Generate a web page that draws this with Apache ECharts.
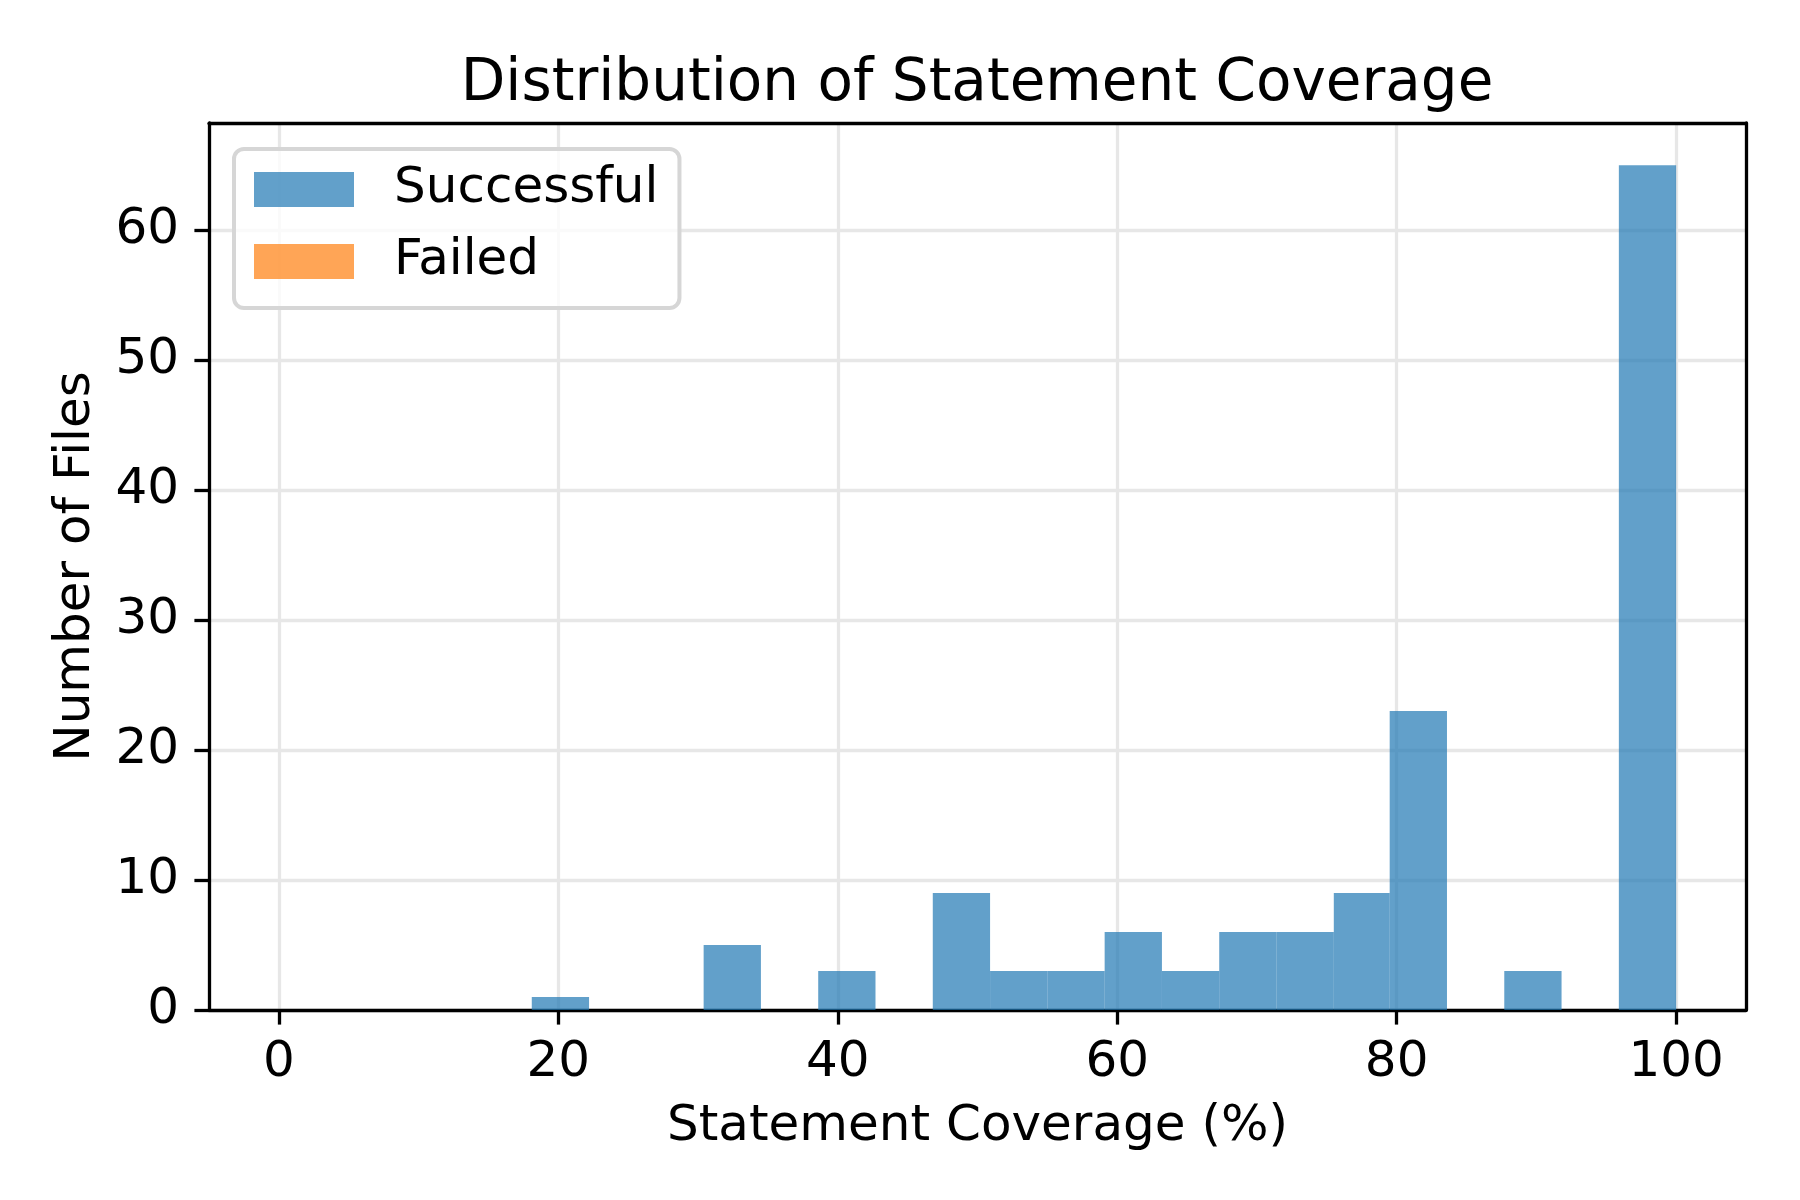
<!DOCTYPE html>
<html><head><meta charset="utf-8">
<script src="https://cdn.jsdelivr.net/npm/echarts@6/dist/echarts.min.js"></script>
<style>html,body{margin:0;padding:0;background:#fff}#c{width:1800px;height:1200px}</style>
</head><body><div id="c"></div>
<script>
// Histogram bin edges and counts
const binEdges = [18.1, 22.2, 26.3, 30.4, 34.5, 38.6, 42.7, 46.8, 50.9, 55.0, 59.1, 63.2, 67.3, 71.4, 75.5, 79.5, 83.6, 87.7, 91.8, 95.9, 100];
const successfulCounts = [1, 0, 0, 5, 0, 3, 0, 9, 3, 3, 6, 3, 6, 6, 9, 23, 0, 3, 0, 65];
const failedEdges = [0, 1];
const failedCounts = [0];
const xTicks = [0, 20, 40, 60, 80, 100];
const yTicks = [0, 10, 20, 30, 40, 50, 60];
const seriesNames = ['Successful', 'Failed'];

function toBars(edges, counts) {
  return counts.map((c, i) => [edges[i], edges[i + 1], c]);
}
function renderBar(params, api) {
  const x0 = api.value(0), x1 = api.value(1), h = api.value(2);
  if (!(h > 0)) return null;
  const p0 = api.coord([x0, 0]);
  const p1 = api.coord([x1, h]);
  return {
    type: 'rect',
    shape: { x: p0[0], y: p1[1], width: p1[0] - p0[0], height: p0[1] - p1[1] },
    style: api.style()
  };
}
const FONT = 'DejaVu Sans';
const chart = echarts.init(document.getElementById('c'), null, { renderer: 'canvas' });
chart.setOption({
  backgroundColor: '#ffffff',
  animation: false,
  textStyle: { fontFamily: FONT },
  title: {
    text: 'Distribution of Statement Coverage',
    left: 977, top: 56, textAlign: 'center',
    padding: 0,
    textStyle: { fontFamily: FONT, fontSize: 58, fontWeight: 'normal', color: '#000' }
  },
  legend: {
    data: [
      { name: seriesNames[0], icon: 'rect' },
      { name: seriesNames[1], icon: 'rect' }
    ],
    orient: 'vertical',
    left: 234, top: 149,
    itemWidth: 100, itemHeight: 35, itemGap: 22,
    padding: [15.5, 21, 21.5, 20],
    backgroundColor: 'rgba(255,255,255,0.8)',
    borderColor: '#d6d6d6', borderWidth: 4, borderRadius: 10,
    textStyle: { fontFamily: FONT, fontSize: 50, color: '#000', padding: [0, 0, 0, 35] },
    selectedMode: false
  },
  grid: { left: 209, right: 54, top: 123, bottom: 190, containLabel: false },
  xAxis: [{
    type: 'value', min: -5, max: 105,
    name: 'Statement Coverage (%)', nameLocation: 'middle', nameGap: 92,
    nameTextStyle: { fontFamily: FONT, fontSize: 50, color: '#000' },
    axisLine: { show: true, onZero: false, lineStyle: { color: '#000', width: 3.3 } },
    axisTick: { show: true, customValues: xTicks, length: 14.6, lineStyle: { color: '#000', width: 3.3 } },
    axisLabel: { customValues: xTicks, fontFamily: FONT, fontSize: 50, color: '#000', margin: 28 },
    splitLine: { show: true, lineStyle: { color: '#e7e7e7', width: 3.3 } }
  }, {
    type: 'value', min: -5, max: 105, position: 'top',
    axisLine: { show: true, onZero: false, lineStyle: { color: '#000', width: 3.3 } },
    axisTick: { show: false }, axisLabel: { show: false }, splitLine: { show: false }
  }],
  yAxis: [{
    type: 'value', min: 0, max: 68.25,
    name: 'Number of Files', nameLocation: 'middle', nameGap: 108, nameRotate: 90,
    nameTextStyle: { fontFamily: FONT, fontSize: 50, color: '#000' },
    axisLine: { show: true, onZero: false, lineStyle: { color: '#000', width: 3.3 } },
    axisTick: { show: true, customValues: yTicks, length: 14.6, lineStyle: { color: '#000', width: 3.3 } },
    axisLabel: { customValues: yTicks, fontFamily: FONT, fontSize: 50, color: '#000', margin: 30 },
    splitLine: { show: true, lineStyle: { color: '#e7e7e7', width: 3.3 } }
  }, {
    type: 'value', min: 0, max: 68.25, position: 'right',
    axisLine: { show: true, onZero: false, lineStyle: { color: '#000', width: 3.3 } },
    axisTick: { show: false }, axisLabel: { show: false }, splitLine: { show: false }
  }],
  series: [{
    name: seriesNames[0], type: 'custom', renderItem: renderBar,
    xAxisIndex: 0, yAxisIndex: 0,
    encode: { x: [0, 1], y: 2 },
    itemStyle: { color: 'rgba(31,119,180,0.7)' },
    data: toBars(binEdges, successfulCounts)
  }, {
    name: seriesNames[1], type: 'custom', renderItem: renderBar,
    xAxisIndex: 0, yAxisIndex: 0,
    encode: { x: [0, 1], y: 2 },
    itemStyle: { color: 'rgba(255,127,14,0.7)' },
    data: toBars(failedEdges, failedCounts)
  }]
});
</script>
</body></html>
